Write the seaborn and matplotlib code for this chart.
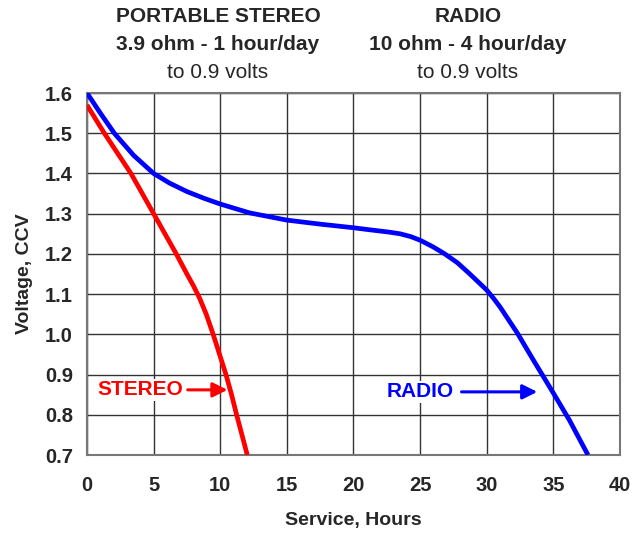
import numpy as np
import pandas as pd
import matplotlib
matplotlib.use("Agg")
import matplotlib.pyplot as plt
import seaborn as sns

# Discharge curves
stereo_hours = [0.0, 1.3, 2.3, 3.3, 4.15, 5.0, 5.85, 6.7, 7.5, 8.0, 8.45,
                8.95, 9.47, 9.95, 10.43, 10.85, 11.23, 11.63, 12.03]
stereo_volts = [1.57, 1.50, 1.45, 1.40, 1.35, 1.30, 1.25, 1.20, 1.15, 1.12,
                1.09, 1.05, 1.00, 0.95, 0.90, 0.85, 0.80, 0.75, 0.70]

radio_hours = [0.0, 1.0, 2.05, 3.5, 5.0, 6.2, 7.5, 8.8, 10.0, 12.2, 15.0,
               17.5, 20.0, 21.2, 22.7, 23.5, 24.3, 25.0, 26.0, 26.85, 27.8,
               28.7, 29.4, 30.0, 30.5, 31.0, 31.6, 32.3, 33.5, 35.0, 36.2,
               37.6]
radio_volts = [1.60, 1.55, 1.50, 1.445, 1.40, 1.376, 1.355, 1.338, 1.324,
               1.302, 1.284, 1.274, 1.265, 1.260, 1.254, 1.250, 1.243, 1.234,
               1.217, 1.20, 1.178, 1.151, 1.129, 1.110, 1.090, 1.068, 1.038,
               1.003, 0.936, 0.854, 0.787, 0.70]

x_ticks = [0, 5, 10, 15, 20, 25, 30, 35, 40]
y_ticks = [0.7, 0.8, 0.9, 1.0, 1.1, 1.2, 1.3, 1.4, 1.5, 1.6]

sns.set_style("white")
plt.rcParams["font.family"] = ["Liberation Sans", "DejaVu Sans"]

df = pd.concat([
    pd.DataFrame({"hours": stereo_hours, "volts": stereo_volts, "series": "STEREO"}),
    pd.DataFrame({"hours": radio_hours, "volts": radio_volts, "series": "RADIO"}),
])

fig = plt.figure(figsize=(6.42, 5.33), dpi=100)
ax = fig.add_axes([0.1355, 0.1463, 0.8302, 0.6792])

sns.lineplot(data=df, x="hours", y="volts", hue="series",
             palette={"STEREO": "#ff0000", "RADIO": "#0000ff"},
             linewidth=3.4, legend=False, sort=False, ax=ax, zorder=5)
for line in ax.lines:
    line.set_solid_joinstyle("round")
    line.set_solid_capstyle("butt")

ax.set_xlim(0, 40)
ax.set_ylim(0.7, 1.6)
ax.set_xticks(x_ticks)
ax.set_yticks(y_ticks)
ax.set_xticklabels([str(t) for t in x_ticks], fontsize=14.5, fontweight="bold")
ax.set_yticklabels([f"{t:.1f}" for t in y_ticks], fontsize=14.5, fontweight="bold")
ax.tick_params(axis="x", length=0, pad=15)
ax.tick_params(axis="y", length=0, pad=10)
ax.grid(True, color="#333333", linewidth=1.0)
for sp in ax.spines.values():
    sp.set_color("#777777")
    sp.set_linewidth(1.5)

ax.set_xlabel("Service, Hours", fontsize=14, fontweight="bold", labelpad=12)
ax.set_ylabel("Voltage, CCV", fontsize=14, fontweight="bold", labelpad=9)

# Annotations
ax.text(0.75, 0.862, "STEREO", color="#ff0000", fontsize=15, fontweight="bold",
        va="center", ha="left", zorder=6,
        bbox=dict(facecolor="white", edgecolor="none", pad=1))
ax.annotate("", xy=(10.75, 0.862), xytext=(7.35, 0.862),
            arrowprops=dict(arrowstyle="-|>", color="#ff0000", lw=2.2,
                            mutation_scale=22), zorder=6)
ax.text(22.5, 0.857, "RADIO", color="#0000ff", fontsize=15, fontweight="bold",
        va="center", ha="left", zorder=6,
        bbox=dict(facecolor="white", edgecolor="none", pad=1))
ax.annotate("", xy=(34.0, 0.857), xytext=(27.9, 0.857),
            arrowprops=dict(arrowstyle="-|>", color="#0000ff", lw=2.2,
                            mutation_scale=22), zorder=6)

# Header text
for x, lines in [(218, ["PORTABLE STEREO", "3.9 ohm - 1 hour/day", "to 0.9 volts"]),
                 (468, ["RADIO", "10 ohm - 4 hour/day", "to 0.9 volts"])]:
    for i, (txt, y) in enumerate(zip(lines, [17, 45, 72])):
        fig.text(x / 642, 1 - y / 533, txt, ha="center", va="center",
                 fontsize=15, fontweight="bold" if i < 2 else "normal")

fig.savefig("out.png", dpi=100)
